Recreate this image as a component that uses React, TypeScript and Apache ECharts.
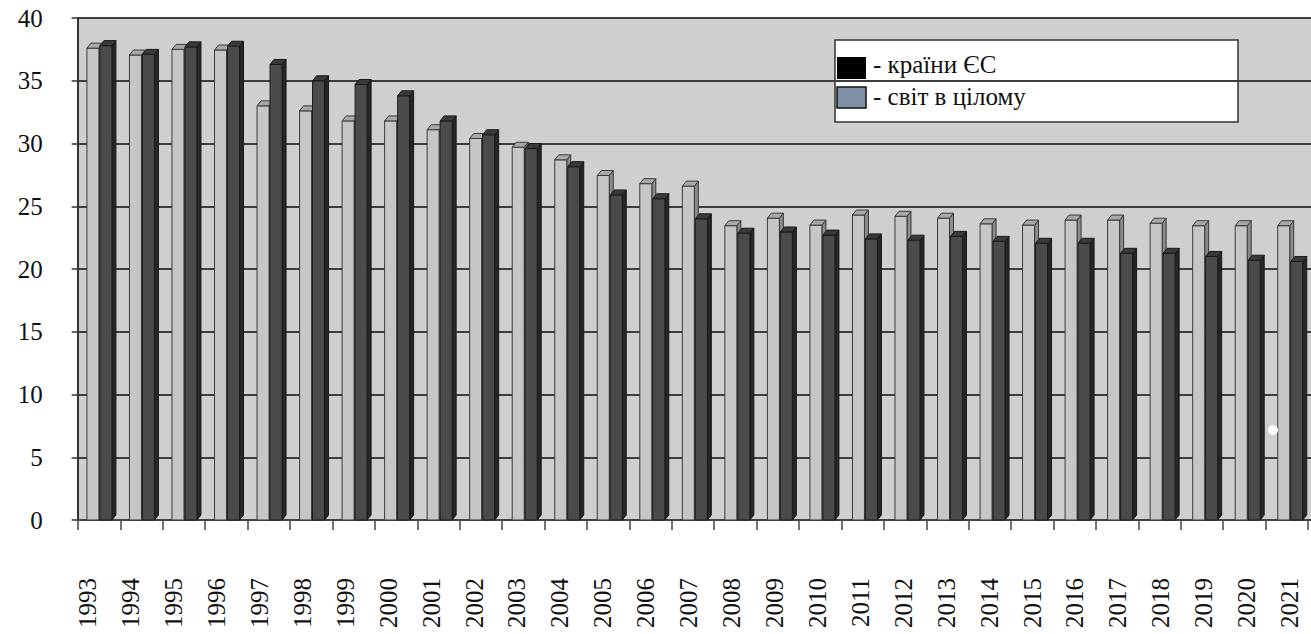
import React, { useEffect, useRef } from "react";
import * as echarts from "echarts";

// Years on the category axis
const years = [
  "1993", "1994", "1995", "1996", "1997", "1998", "1999", "2000", "2001", "2002",
  "2003", "2004", "2005", "2006", "2007", "2008", "2009", "2010", "2011", "2012",
  "2013", "2014", "2015", "2016", "2017", "2018", "2019", "2020", "2021",
];

// світ в цілому (light bars)
const worldShare = [
  37.6, 37.05, 37.5, 37.45, 33.0, 32.6, 31.8, 31.8, 31.1, 30.4,
  29.7, 28.7, 27.45, 26.8, 26.6, 23.45, 24.05, 23.5, 24.3, 24.2,
  24.05, 23.6, 23.5, 23.9, 23.9, 23.65, 23.45, 23.45, 23.45,
];

// країни ЄС (dark bars)
const euShare = [
  37.8, 37.1, 37.7, 37.75, 36.3, 35.0, 34.7, 33.8, 31.8, 30.7,
  29.6, 28.15, 25.9, 25.6, 24.0, 22.85, 22.95, 22.7, 22.4, 22.3,
  22.6, 22.2, 22.05, 22.05, 21.25, 21.25, 21.0, 20.7, 20.6,
];

// Value axis range
const yMin = 0;
const yMax = 40;
const yStep = 5;

const legendNames = ["країни ЄС", "світ в цілому"];

const SERIF = "Liberation Serif";

type PrismStyle = {
  from: number;
  to: number;
  front: string;
  top: string;
  side: string;
  stroke: string;
};

// Draws a bar as a small prism: front face, right side face and top face.
function prismRenderer(s: PrismStyle) {
  const dx = 4;
  const dy = 5;
  return (_params: any, api: any) => {
    const idx = api.value(0);
    const val = api.value(1);
    const topPt = api.coord([idx, val]);
    const basePt = api.coord([idx, 0]);
    const c = topPt[0];
    const x0 = c + s.from;
    const x1 = c + s.to;
    const yT = topPt[1];
    const yB = basePt[1];
    return {
      type: "group",
      children: [
        {
          type: "polygon",
          shape: { points: [[x1, yT], [x1 + dx, yT - dy], [x1 + dx, yB - dy], [x1, yB]] },
          style: { fill: s.side, stroke: s.stroke, lineWidth: 1 },
        },
        {
          type: "rect",
          shape: { x: x0, y: yT, width: x1 - x0, height: yB - yT },
          style: { fill: s.front, stroke: s.stroke, lineWidth: 1 },
        },
        {
          type: "polygon",
          shape: { points: [[x0, yT], [x1, yT], [x1 + dx, yT - dy], [x0 + dx, yT - dy]] },
          style: { fill: s.top, stroke: s.stroke, lineWidth: 1 },
        },
      ],
    };
  };
}

export default function App() {
  const ref = useRef<HTMLDivElement>(null);

  useEffect(() => {
    if (!ref.current) return;
    const chart = echarts.init(ref.current, undefined, { renderer: "svg" });

    const top = 18;
    const height = 502;

    const option: any = {
      animation: false,
      backgroundColor: "#ffffff",
      textStyle: { fontFamily: SERIF },
      grid: [
        // bars, value axis and back wall
        { left: 77.66, top, width: 1237.7, height, show: true, backgroundColor: "#cfcfcf", borderWidth: 0 },
        // category boundary ticks
        { left: 78, top, width: 1230, height },
        // year labels
        { left: 66.35, top, width: 1255.7, height },
      ],
      xAxis: [
        { type: "category", gridIndex: 0, data: years, show: false },
        {
          type: "category",
          gridIndex: 1,
          data: years,
          axisLine: { show: true, lineStyle: { color: "#444", width: 2 } },
          axisTick: { show: true, length: 10, lineStyle: { color: "#444", width: 1.5 } },
          axisLabel: { show: false },
          splitLine: { show: false },
        },
        {
          type: "category",
          gridIndex: 2,
          data: years,
          axisLine: { show: false },
          axisTick: { show: false },
          splitLine: { show: false },
          axisLabel: {
            show: true,
            rotate: 90,
            margin: 58,
            interval: 0,
            fontSize: 25,
            color: "#111",
            fontFamily: SERIF,
          },
        },
      ],
      yAxis: [
        {
          type: "value",
          gridIndex: 0,
          min: yMin,
          max: yMax,
          interval: yStep,
          axisLine: { show: true, lineStyle: { color: "#333", width: 2 } },
          axisTick: { show: true, length: 6, lineStyle: { color: "#333", width: 1.5 } },
          axisLabel: { fontSize: 25, color: "#111", fontFamily: SERIF, margin: 35 },
          splitLine: { show: true, lineStyle: { color: "#3d3d3d", width: 2 } },
        },
        { type: "value", gridIndex: 1, min: yMin, max: yMax, show: false, splitLine: { show: false } },
        { type: "value", gridIndex: 2, min: yMin, max: yMax, show: false, splitLine: { show: false } },
      ],
      series: [
        {
          name: legendNames[1],
          type: "custom",
          xAxisIndex: 0,
          yAxisIndex: 0,
          data: worldShare.map((v, i) => [i, v]),
          encode: { x: 0, y: 1 },
          itemStyle: { color: "#c2c2c2" },
          renderItem: prismRenderer({
            from: -12,
            to: 0,
            front: "#c6c6c6",
            top: "#a8a8a8",
            side: "#8a8a8a",
            stroke: "#3a3a3a",
          }),
        },
        {
          name: legendNames[0],
          type: "custom",
          xAxisIndex: 0,
          yAxisIndex: 0,
          data: euShare.map((v, i) => [i, v]),
          encode: { x: 0, y: 1 },
          itemStyle: { color: "#4a4a4a" },
          renderItem: prismRenderer({
            from: 1,
            to: 13,
            front: "#4b4b4b",
            top: "#3a3a3a",
            side: "#262626",
            stroke: "#1a1a1a",
          }),
        },
      ],
      graphic: [
        {
          type: "group",
          z: 100,
          children: [
            {
              type: "rect",
              shape: { x: 835, y: 40, width: 403, height: 82 },
              style: { fill: "#ffffff", stroke: "#333", lineWidth: 1.5 },
            },
            {
              type: "rect",
              shape: { x: 837, y: 57, width: 29, height: 22 },
              style: { fill: "#000000" },
            },
            {
              type: "rect",
              shape: { x: 837, y: 87, width: 29, height: 21 },
              style: { fill: "#7f8fa8", stroke: "#111", lineWidth: 1.5 },
            },
            {
              type: "text",
              x: 873,
              y: 64,
              style: {
                text: "- " + legendNames[0],
                fontSize: 25,
                fontFamily: SERIF,
                fill: "#111",
                verticalAlign: "middle",
              },
            },
            {
              type: "text",
              x: 873,
              y: 96,
              style: {
                text: "- " + legendNames[1],
                fontSize: 25,
                fontFamily: SERIF,
                fill: "#111",
                verticalAlign: "middle",
              },
            },
          ],
        },
        {
          type: "circle",
          z: 100,
          shape: { cx: 1273, cy: 430, r: 5 },
          style: { fill: "#ffffff" },
        },
      ],
    };

    chart.setOption(option);
    return () => chart.dispose();
  }, []);

  return (
    <div
      ref={ref}
      style={{ position: "fixed", left: 0, top: 0, width: 1311, height: 634 }}
    />
  );
}
